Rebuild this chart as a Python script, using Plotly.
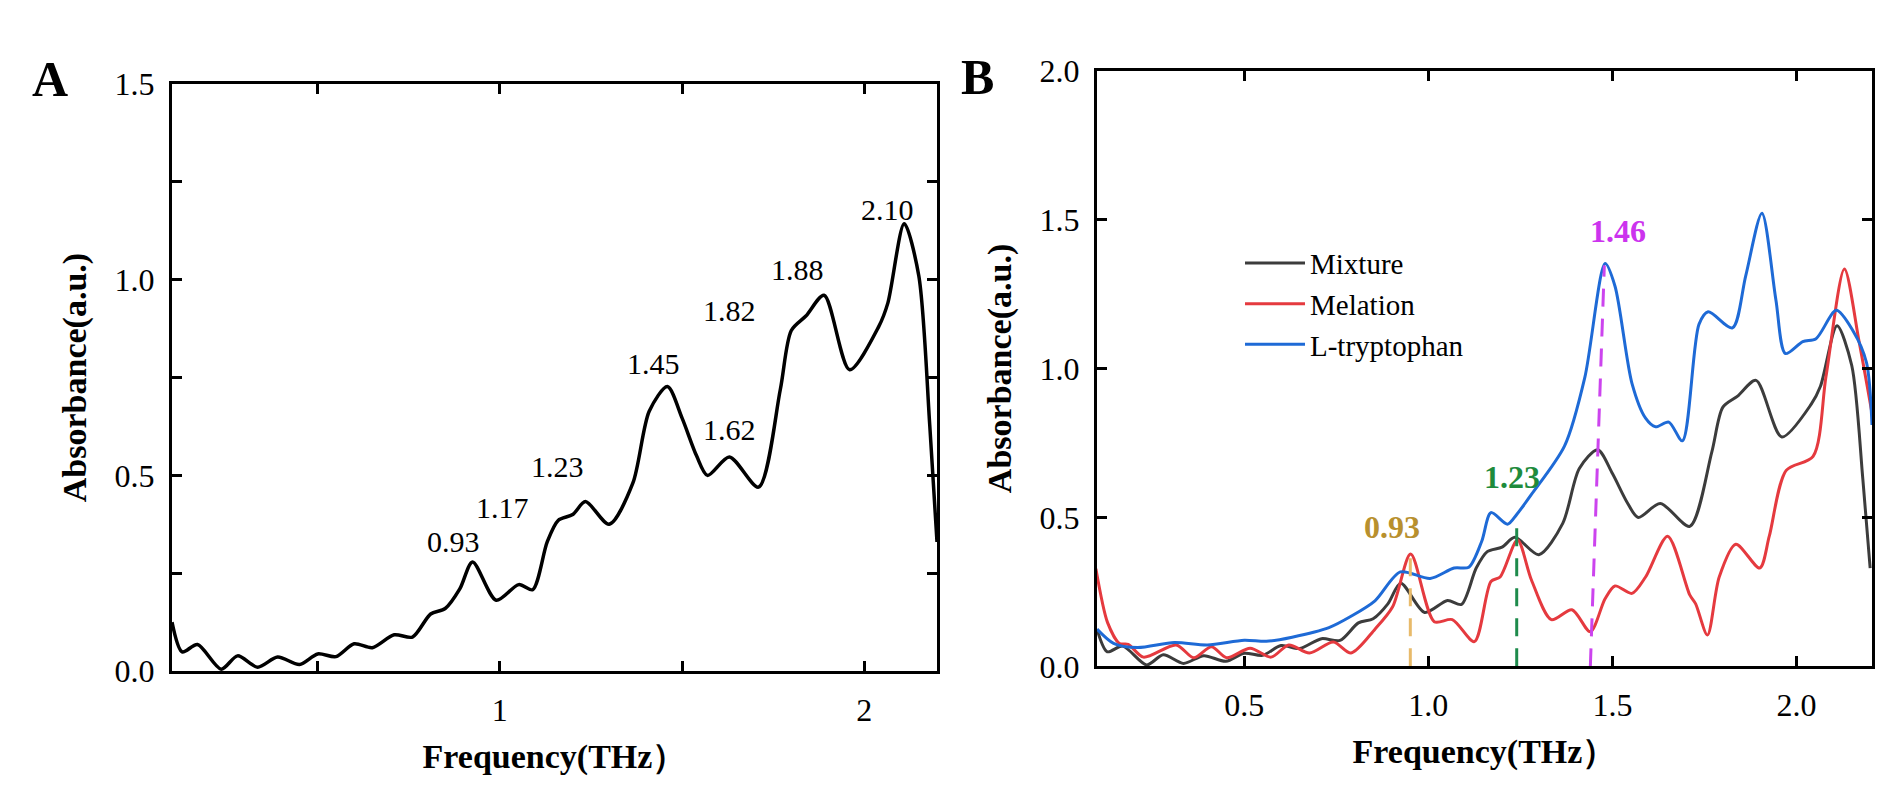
import plotly.graph_objects as go

# Mixture spectrum (panel A, and black curve in panel B)
mix_x = [0.10, 0.128, 0.17, 0.235, 0.28, 0.335, 0.39, 0.45, 0.50, 0.55, 0.60, 0.65, 0.71, 0.76,
         0.81, 0.85, 0.89, 0.925, 0.99, 1.052, 1.09, 1.13, 1.16, 1.20, 1.235, 1.30, 1.365, 1.41,
         1.46, 1.50, 1.54, 1.57, 1.63, 1.71, 1.77, 1.80, 1.84, 1.89, 1.96, 2.04, 2.065, 2.11,
         2.15, 2.18, 2.20]
mix_y = [0.125, 0.049, 0.068, 0.005, 0.039, 0.01, 0.036, 0.017, 0.044, 0.037, 0.07, 0.06, 0.093, 0.087,
         0.146, 0.16, 0.21, 0.279, 0.181, 0.221, 0.208, 0.33, 0.385, 0.40, 0.433, 0.375, 0.48, 0.664,
         0.727, 0.647, 0.55, 0.50, 0.547, 0.47, 0.72, 0.87, 0.907, 0.96, 0.77, 0.88, 0.94, 1.143,
         1.01, 0.63, 0.33]

# Melation spectrum
mel_x = [0.097, 0.129, 0.161, 0.185, 0.226, 0.315, 0.363, 0.411, 0.452, 0.516, 0.573, 0.621, 0.677,
         0.742, 0.79, 0.855, 0.903, 0.952, 1.016, 1.065, 1.125, 1.17, 1.195, 1.242, 1.28, 1.334,
         1.39, 1.44, 1.48, 1.507, 1.553, 1.59, 1.65, 1.71, 1.726, 1.758, 1.79, 1.835, 1.90, 1.926,
         1.972, 2.045, 2.08, 2.13, 2.17, 2.205]
mel_y = [0.328, 0.146, 0.077, 0.074, 0.031, 0.072, 0.029, 0.066, 0.029, 0.061, 0.031, 0.072, 0.045,
         0.082, 0.045, 0.125, 0.20, 0.377, 0.15, 0.157, 0.083, 0.285, 0.30, 0.424, 0.29, 0.157,
         0.19, 0.116, 0.227, 0.27, 0.245, 0.30, 0.437, 0.24, 0.21, 0.105, 0.30, 0.41, 0.33, 0.437,
         0.658, 0.705, 0.973, 1.334, 1.09, 0.85]

# L-tryptophan spectrum
trp_x = [0.10, 0.145, 0.21, 0.31, 0.40, 0.50, 0.56, 0.63, 0.73, 0.79, 0.855, 0.924, 1.005, 1.07,
         1.11, 1.145, 1.17, 1.215, 1.24, 1.28, 1.37, 1.425, 1.48, 1.507, 1.553, 1.59, 1.617, 1.653,
         1.69, 1.735, 1.76, 1.826, 1.862, 1.906, 1.944, 1.97, 2.017, 2.053, 2.108, 2.154, 2.19, 2.205]
trp_y = [0.125, 0.077, 0.063, 0.08, 0.072, 0.088, 0.084, 0.098, 0.13, 0.168, 0.22, 0.317, 0.295, 0.33,
         0.333, 0.42, 0.516, 0.477, 0.51, 0.577, 0.74, 0.97, 1.352, 1.276, 0.95, 0.833, 0.804, 0.82,
         0.757, 1.148, 1.19, 1.136, 1.311, 1.521, 1.23, 1.05, 1.09, 1.10, 1.195, 1.125, 1.02, 0.81]

# Peak labels, panel A
a_peak_text = ["0.93", "1.17", "1.23", "1.45", "1.62", "1.82", "1.88", "2.10"]
a_peak_x = [0.872, 1.008, 1.158, 1.423, 1.63, 1.63, 1.817, 2.063]
a_peak_y = [0.33, 0.418, 0.523, 0.786, 0.618, 0.922, 1.027, 1.178]

# Peak markers, panel B
b_peak_text = ["0.93", "1.23", "1.46"]
b_line_x0 = [0.951, 1.24, 1.44]
b_line_x1 = [0.951, 1.24, 1.478]
b_line_top = [0.375, 0.50, 1.346]
b_label_x = [0.90, 1.227, 1.515]
b_label_y = [0.468, 0.635, 1.46]
b_text_colors = ["#B8902E", "#1E8B3C", "#CC33EE"]
b_line_colors = ["#E8BA6A", "#1E8B4C", "#CC44EE"]

SERIF = "Liberation Serif, Times New Roman, serif"

fig = go.Figure()

fig.add_trace(go.Scatter(x=mix_x, y=mix_y, mode="lines", showlegend=False,
                         line=dict(color="black", width=3.5, shape="spline", smoothing=0.8),
                         xaxis="x", yaxis="y"))

fig.add_trace(go.Scatter(x=mix_x, y=mix_y, mode="lines", name="Mixture",
                         line=dict(color="#3C3C3C", width=3, shape="spline", smoothing=0.8),
                         xaxis="x2", yaxis="y2"))
fig.add_trace(go.Scatter(x=mel_x, y=mel_y, mode="lines", name="Melation",
                         line=dict(color="#E53A3F", width=3, shape="spline", smoothing=0.8),
                         xaxis="x2", yaxis="y2"))
fig.add_trace(go.Scatter(x=trp_x, y=trp_y, mode="lines", name="L-tryptophan",
                         line=dict(color="#1E6AD6", width=3, shape="spline", smoothing=0.8),
                         xaxis="x2", yaxis="y2"))

for x0, x1, top, col in zip(b_line_x0, b_line_x1, b_line_top, b_line_colors):
    fig.add_trace(go.Scatter(x=[x0, x1], y=[0, top], mode="lines", showlegend=False,
                             line=dict(color=col, width=3, dash="18px,12px"),
                             xaxis="x2", yaxis="y2"))

annotations = []
for t, x, y in zip(a_peak_text, a_peak_x, a_peak_y):
    annotations.append(dict(text=t, x=x, y=y, xref="x", yref="y", showarrow=False,
                            font=dict(family=SERIF, size=30, color="black")))
for t, x, y, c in zip(b_peak_text, b_label_x, b_label_y, b_text_colors):
    annotations.append(dict(text="<b>" + t + "</b>", x=x, y=y, xref="x2", yref="y2", showarrow=False,
                            font=dict(family=SERIF, size=32, color=c)))
annotations.append(dict(text="<b>A</b>", x=30 / 1889, y=1 - 32 / 798, xref="paper", yref="paper",
                        showarrow=False, font=dict(family=SERIF, size=50, color="black")))
annotations.append(dict(text="<b>B</b>", x=977 / 1889, y=1 - 30 / 798, xref="paper", yref="paper",
                        showarrow=False, font=dict(family=SERIF, size=50, color="black")))

axis_common = dict(
    showline=True, linecolor="black", linewidth=3, mirror="allticks",
    ticks="inside", ticklen=10, tickwidth=3, tickcolor="black",
    showgrid=False, zeroline=False,
    tickfont=dict(family=SERIF, size=32, color="black"),
    ticklabelstandoff=8,
)
title_font = dict(family=SERIF, size=34, color="black")

fig.update_layout(
    width=1889, height=798,
    margin=dict(l=0, r=0, t=0, b=0),
    paper_bgcolor="white", plot_bgcolor="white",
    xaxis=dict(axis_common, domain=[172 / 1889, 937 / 1889], range=[0.1, 2.2],
               tickvals=[1, 2], ticktext=["1", "2"],
               minor=dict(tickvals=[0.5, 1.5], ticks="inside", ticklen=10, tickwidth=3, tickcolor="black"),
               title=dict(text="<b>Frequency(THz）</b>", font=title_font, standoff=18),
               anchor="y"),
    yaxis=dict(axis_common, domain=[1 - 684 / 798, 1 - 69 / 798], range=[0, 1.5],
               tickvals=[0, 0.5, 1.0, 1.5], ticktext=["0.0", "0.5", "1.0", "1.5"],
               minor=dict(tickvals=[0.25, 0.75, 1.25], ticks="inside", ticklen=10, tickwidth=3,
                          tickcolor="black"),
               title=dict(text="<b>Absorbance(a.u.)</b>", font=title_font, standoff=18),
               anchor="x"),
    xaxis2=dict(axis_common, domain=[1097 / 1889, 1872 / 1889], range=[0.1, 2.205],
                tickvals=[0.5, 1.0, 1.5, 2.0], ticktext=["0.5", "1.0", "1.5", "2.0"],
                title=dict(text="<b>Frequency(THz）</b>", font=title_font, standoff=18),
                anchor="y2"),
    yaxis2=dict(axis_common, domain=[1 - 679 / 798, 1 - 55 / 798], range=[0, 2.0],
                tickvals=[0, 0.5, 1.0, 1.5, 2.0], ticktext=["0.0", "0.5", "1.0", "1.5", "2.0"],
                title=dict(text="<b>Absorbance(a.u.)</b>", font=title_font, standoff=18),
                anchor="x2"),
    legend=dict(x=1240 / 1889, y=1 - 230 / 798, xanchor="left", yanchor="top",
                font=dict(family=SERIF, size=29, color="black"),
                bgcolor="rgba(0,0,0,0)", itemwidth=60, tracegroupgap=0),
    annotations=annotations,
)

fig.write_html("out.html", config={"displayModeBar": False},
               post_script="document.body.style.margin='0';")
